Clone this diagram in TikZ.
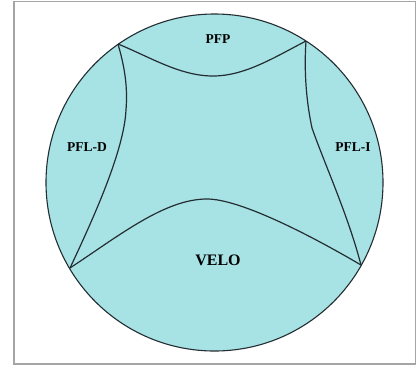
\documentclass[tikz,border=0pt]{standalone}
\usepackage{fontspec}
\setmainfont{Liberation Serif}
\definecolor{regionfill}{RGB}{167,226,229}
\definecolor{framegray}{RGB}{165,165,165}
\definecolor{edgeline}{RGB}{35,45,50}
\begin{document}
\begin{tikzpicture}[x=1pt,y=-1pt,
  region/.style={fill=regionfill,draw=edgeline,line width=1.1pt},
  border/.style={line width=1.2pt,draw=edgeline},
  lbl/.style={font=\bfseries\fontsize{13.5}{15}\selectfont,text=black,inner sep=0pt},
  biglbl/.style={font=\bfseries\fontsize{16}{18}\selectfont,text=black,inner sep=0pt}]
\useasboundingbox (0,0) rectangle (416,368);
\draw[framegray,line width=1.3pt] (14,1.5) rectangle (415.5,364);
\node[circle,region,minimum size=337pt,inner sep=0pt] (disc) at (214.5,182.5) {};
\coordinate (TL) at (118,44);
\coordinate (TR) at (306,41);
\coordinate (BL) at (70,268);
\coordinate (BR) at (361,265);
\coordinate (topmid) at (213,76);
\coordinate (leftmid) at (126,110);
\coordinate (rightmid) at (312,128);
\coordinate (botmid) at (207,199);
\draw[border] (TL) .. controls (150,57) and (180,76) .. (topmid)
  .. controls (245,76) and (275,57) .. (TR);
\draw[border] (TL) .. controls (124,65) and (128,85) .. (leftmid)
  .. controls (124,150) and (95,215) .. (BL);
\draw[border] (TR) .. controls (304,70) and (306,100) .. (rightmid)
  .. controls (325,165) and (348,215) .. (BR);
\draw[border] (BL) .. controls (120,235) and (165,199) .. (botmid)
  .. controls (240,199) and (310,235) .. (BR);
\node[lbl] (pfp) at (218,39) {PFP};
\node[lbl] (pfld) at (87,147) {PFL-D};
\node[lbl] (pfli) at (353,147) {PFL-I};
\node[biglbl] (velo) at (218,260) {VELO};
\end{tikzpicture}
\end{document}
